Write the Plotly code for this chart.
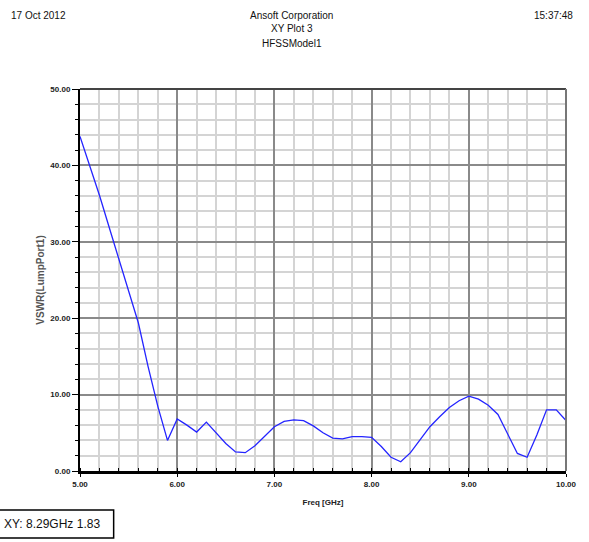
import plotly.graph_objects as go

freq_ghz = [5.0, 5.1, 5.2, 5.3, 5.4, 5.5, 5.6, 5.7, 5.8, 5.9,
            6.0, 6.1, 6.2, 6.3, 6.4, 6.5, 6.6, 6.7, 6.8, 6.9,
            7.0, 7.1, 7.2, 7.3, 7.4, 7.5, 7.6, 7.7, 7.8, 7.9,
            8.0, 8.1, 8.2, 8.3, 8.4, 8.5, 8.6, 8.7, 8.8, 8.9,
            9.0, 9.1, 9.2, 9.3, 9.4, 9.5, 9.6, 9.7, 9.8, 9.9, 10.0]
vswr = [43.8, 40.0, 36.1, 31.9, 27.7, 23.8, 19.4, 13.7, 8.5, 4.0,
        6.8, 6.0, 5.1, 6.4, 5.0, 3.6, 2.5, 2.4, 3.3, 4.6,
        5.8, 6.5, 6.7, 6.6, 5.9, 5.0, 4.3, 4.2, 4.5, 4.5,
        4.4, 3.2, 1.8, 1.2, 2.4, 4.1, 5.8, 7.1, 8.3, 9.2,
        9.8, 9.4, 8.6, 7.4, 4.8, 2.3, 1.8, 4.7, 8.0, 8.0, 6.6]

x_tickvals = [5, 6, 7, 8, 9, 10]
x_ticktext = ["5.00", "6.00", "7.00", "8.00", "9.00", "10.00"]
y_tickvals = [0, 10, 20, 30, 40, 50]
y_ticktext = ["0.00", "10.00", "20.00", "30.00", "40.00", "50.00"]

header_left = "17 Oct 2012"
header_center = ["Ansoft Corporation", "XY Plot 3", "HFSSModel1"]
header_right = "15:37:48"
marker_text = "XY: 8.29GHz 1.83"

W, H = 589, 542
# plot area in screen pixels: left 80, right 571, top 89, bottom 471
L, T = 80, 89
R = W - 571
B = H - 471
pw, ph = W - L - R, H - T - B

def px(x):
    return (x - L) / pw

def py(y):
    return (H - B - y) / ph

fig = go.Figure()
fig.add_trace(go.Scatter(x=freq_ghz, y=vswr, mode="lines",
                         line=dict(color="#2424ff", width=1.3),
                         showlegend=False, hoverinfo="skip"))

tickfont = dict(family="Liberation Sans", size=8, color="#222")
fig.update_xaxes(range=[5, 10], tickvals=x_tickvals, ticktext=[f"<b>{t}</b>" for t in x_ticktext],
                 tickfont=tickfont, showgrid=True, gridcolor="#8a8a8a", gridwidth=1.5,
                 minor=dict(dtick=0.2, showgrid=True, gridcolor="#d4d4d4", gridwidth=2,
                            ticks="inside", ticklen=3, tickcolor="black"),
                 ticks="outside", ticklen=3, tickcolor="black",
                 showline=True, linecolor="black", linewidth=3, mirror=False,
                 zeroline=False,
                 title=dict(text="<b>Freq [GHz]</b>", font=dict(family="Liberation Sans", size=8, color="#222"), standoff=12))
fig.update_yaxes(range=[0, 50], tickvals=y_tickvals, ticktext=[f"<b>{t}</b>" for t in y_ticktext],
                 tickfont=tickfont, showgrid=True, gridcolor="#8a8a8a", gridwidth=1.5,
                 minor=dict(dtick=2, showgrid=True, gridcolor="#d4d4d4", gridwidth=2,
                            ticks="outside", ticklen=3, tickcolor="black"),
                 ticks="outside", ticklen=6, tickcolor="black",
                 showline=True, linecolor="black", linewidth=2,
                 zeroline=False,
                 title=dict(text="<b>VSWR(LumpPort1)</b>", font=dict(family="Liberation Sans", size=10, color="#555"), standoff=4))

# top and right frame lines
fig.add_shape(type="line", xref="paper", yref="paper", x0=0, x1=1, y0=1, y1=1,
              line=dict(color="#444", width=2))
fig.add_shape(type="line", xref="paper", yref="paper", x0=1, x1=1, y0=0, y1=1,
              line=dict(color="#777", width=2))

hfont = dict(family="Liberation Sans", size=10, color="#111")
fig.add_annotation(text=header_left, xref="paper", yref="paper", x=px(8), y=py(15),
                   xanchor="left", yanchor="middle", showarrow=False, font=hfont)
for i, t in enumerate(header_center):
    fig.add_annotation(text=t, xref="paper", yref="paper", x=px(294), y=py(15 + 14 * i),
                       xanchor="center", yanchor="middle", showarrow=False, font=hfont)
fig.add_annotation(text=header_right, xref="paper", yref="paper", x=px(580), y=py(15),
                   xanchor="right", yanchor="middle", showarrow=False, font=hfont)

# marker readout box (cut off at left edge)
fig.add_shape(type="rect", xref="paper", yref="paper", x0=px(-10), x1=px(114),
              y0=py(538), y1=py(510), line=dict(color="black", width=1.5),
              fillcolor="white", layer="above")
fig.add_annotation(text=marker_text, xref="paper", yref="paper", x=px(1), y=py(524),
                   xanchor="left", yanchor="middle", showarrow=False,
                   font=dict(family="Liberation Sans", size=12, color="#111"))

fig.update_layout(width=W, height=H, margin=dict(l=L, r=R, t=T, b=B),
                  paper_bgcolor="white", plot_bgcolor="white")
fig.write_html("out.html", config={"displayModeBar": False},
               post_script="document.body.style.margin='0';")
